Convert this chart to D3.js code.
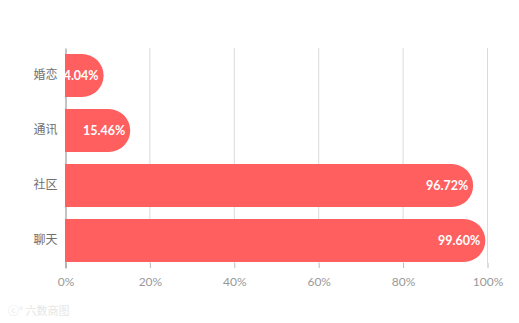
<!DOCTYPE html>
<html><head><meta charset="utf-8">
<script src="https://cdn.jsdelivr.net/npm/d3@7"></script>
<style>body{margin:0;background:#fff;}</style>
</head><body>
<svg id="c" width="519" height="323"></svg>
<script>
const categories = ["婚恋","通讯","社区","聊天"];
const values = [4.04, 15.46, 96.72, 99.60];
const ticks = [0,20,40,60,80,100];

const svg = d3.select("#c");
const plotTop = 48, plotBottom = 268, axisY = 263;
const x = d3.scaleLinear().domain([0,100]).range([65, 487]);
const y = d3.scaleBand().domain(categories).range([plotTop, plotBottom]).paddingInner(0.22).paddingOuter(0.11);

// grid
svg.append("g").selectAll("line").data(ticks.slice(1)).join("line")
  .attr("x1", d=>x(d)+0.5).attr("x2", d=>x(d)+0.5).attr("y1", plotTop).attr("y2", axisY)
  .attr("stroke","#dadada").attr("stroke-width",1);

// x axis
const xa = svg.append("g").attr("transform",`translate(0.5,${axisY})`)
  .call(d3.axisBottom(x).tickValues(ticks).tickFormat(d=>d+"%").tickSize(5).tickPadding(9));
xa.select(".domain").remove();
xa.selectAll("line").attr("stroke","#bbb");
xa.selectAll("text").attr("fill","#999").style("font-size","12px").style("font-family","Lato, 'Noto Sans CJK SC', sans-serif");

// y axis
const ya = svg.append("g").attr("transform",`translate(${x(0)+0.5},0)`)
  .call(d3.axisLeft(y).tickSize(0).tickPadding(8));
ya.select(".domain").attr("stroke","#888");
ya.selectAll("text").attr("fill","#707070").style("font-size","12px").style("font-family","'Noto Sans CJK SC', sans-serif");

const bh = y.bandwidth();
const r = bh/2;
function barPath(v){
  const x0 = x(0);
  const w = Math.max(x(v)-x0, bh*0.9);
  const x1 = x0 + w;
  const rr = Math.min(r, w);
  return {x1, d:(yy)=>`M${x0},${yy}H${x1-rr}A${rr},${r} 0 0 1 ${x1},${yy+r}A${rr},${r} 0 0 1 ${x1-rr},${yy+bh}H${x0}Z`};
}
const g = svg.append("g");
categories.forEach((c,i)=>{
  const p = barPath(values[i]);
  g.append("path").attr("d", p.d(y(c))).attr("fill","#ff5f5f");
  g.append("text").attr("x", p.x1-5).attr("y", y(c)+bh/2).attr("dy","0.35em")
    .attr("text-anchor","end").attr("fill","#fff").style("font-weight","bold")
    .style("font-size","12.5px").style("font-family","Lato, 'Noto Sans', sans-serif")
    .text(values[i].toFixed(2)+"%");
});

// watermark
svg.append("text").attr("x",8).attr("y",315).attr("fill","#e6e6e6")
  .style("font-size","11px").style("font-family","'Noto Sans CJK SC', sans-serif").text("ⓒ° 六数商图");
</script>
</body></html>
